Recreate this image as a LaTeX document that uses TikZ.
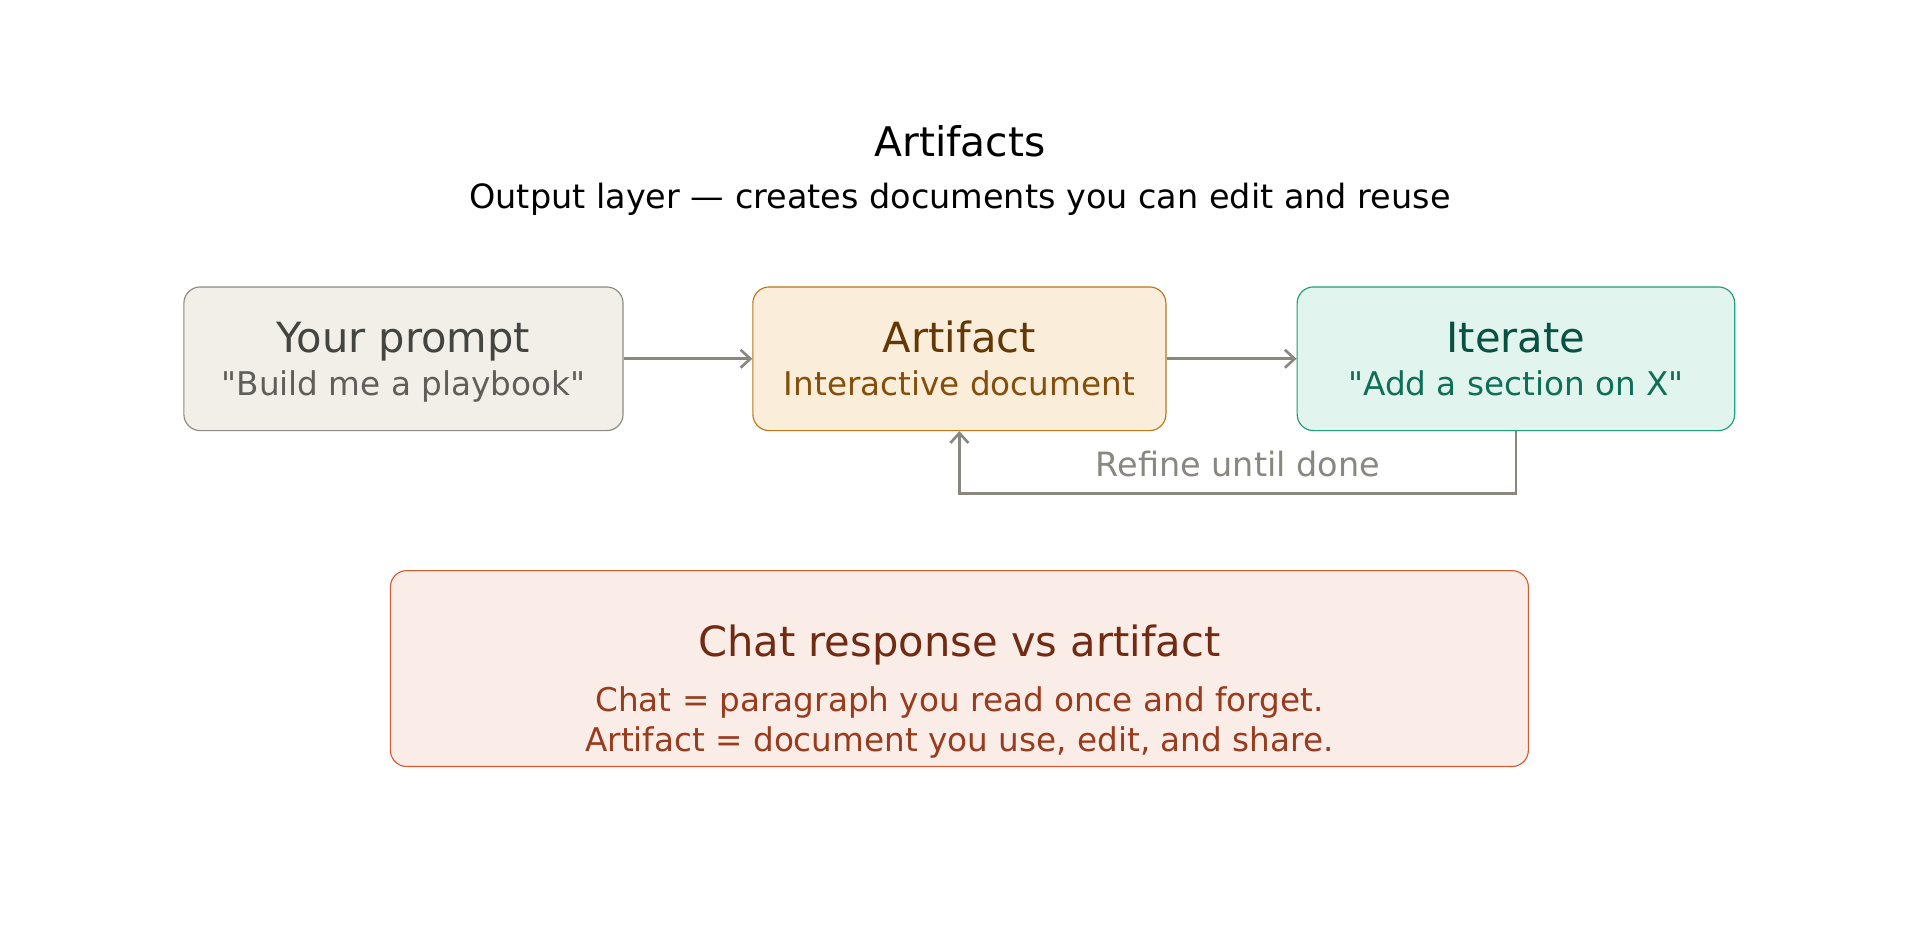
\documentclass[tikz,border=0pt]{standalone}
\usepackage{fontspec}
\setmainfont{DejaVu Sans}[Ligatures=TeXOff]
\usetikzlibrary{arrows.meta,positioning}
\definecolor{promptfill}{HTML}{F1EFE8}\definecolor{promptline}{HTML}{8A8A80}
\definecolor{prompttitle}{HTML}{444441}\definecolor{promptsub}{HTML}{5F5E5A}
\definecolor{artfill}{HTML}{FAEEDA}\definecolor{artline}{HTML}{BA7517}
\definecolor{arttitle}{HTML}{633806}\definecolor{artsub}{HTML}{854F0B}
\definecolor{iterfill}{HTML}{E1F5EE}\definecolor{iterline}{HTML}{1D9E75}
\definecolor{itertitle}{HTML}{085041}\definecolor{itersub}{HTML}{0F6E56}
\definecolor{chatfill}{HTML}{FAECE7}\definecolor{chatline}{HTML}{D85A30}
\definecolor{chattitle}{HTML}{712B13}\definecolor{chatsub}{HTML}{993C1D}
\definecolor{flow}{HTML}{888780}
\tikzset{
stagebox/.style={
  draw,rounded corners=10pt,line width=0.7pt,
  minimum height=88pt,inner sep=0pt},
bigtext/.style={anchor=base,inner sep=0pt,font=\fontsize{25.5}{30}\selectfont},
smalltext/.style={anchor=base,inner sep=0pt,font=\fontsize{20}{24}\selectfont},
flowarrow/.style={
  draw=flow,line width=1.6pt,-{Straight Barb[length=6pt,width=11pt]}}}
\begin{document}
\begin{tikzpicture}[x=0.75pt,y=-0.75pt]
\useasboundingbox (0,0) rectangle (1568,764);
\node[anchor=base,inner sep=0pt,font=\fontsize{25}{30}\selectfont] (title) at (784,128) {Artifacts};
\node[anchor=base,inner sep=0pt,font=\fontsize{20.5}{24}\selectfont] (subtitle) at (784,170) {Output layer — creates documents you can edit and reuse};
% steps
\node[stagebox,fill=promptfill,draw=promptline,minimum width=269pt] (prompt) at (329.5,293) {};
\node[bigtext,text=prompttitle] (prompt title) at (329.5,288) {Your prompt};
\node[smalltext,text=promptsub] (prompt sub) at (329.5,323) {"Build me a playbook"};
\node[stagebox,fill=artfill,draw=artline,minimum width=253pt] (artifact) at (783.5,293) {};
\node[bigtext,text=arttitle] (artifact title) at (783.5,288) {Artifact};
\node[smalltext,text=artsub] (artifact sub) at (783.5,323) {Interactive document};
\node[stagebox,fill=iterfill,draw=iterline,minimum width=268pt] (iterate) at (1238,293) {};
\node[bigtext,text=itertitle] (iterate title) at (1238,288) {Iterate};
\node[smalltext,text=itersub] (iterate sub) at (1238,323) {"Add a section on X"};
\draw[flowarrow] (prompt) -- (artifact);
\draw[flowarrow] (artifact) -- (iterate);
% loop back
\coordinate (loopr) at (1238,403);
\coordinate (loopl) at (783.5,403);
\draw[flowarrow] (iterate.south) -- (loopr) -- (loopl) -- (artifact.south);
\node[anchor=base,inner sep=0pt,text=flow,font=\fontsize{20.5}{24}\selectfont] (refine) at (1011,389) {Refine until done};
% comparison
\node[stagebox,fill=chatfill,draw=chatline,minimum width=697pt,minimum height=120pt] (chat) at (783.5,546) {};
\node[bigtext,text=chattitle] (chat title) at (783.5,536) {Chat response vs artifact};
\node[smalltext,text=chatsub] (chat line1) at (783.5,581) {Chat = paragraph you read once and forget.};
\node[smalltext,text=chatsub] (chat line2) at (783.5,614) {Artifact = document you use, edit, and share.};
\end{tikzpicture}
\end{document}
